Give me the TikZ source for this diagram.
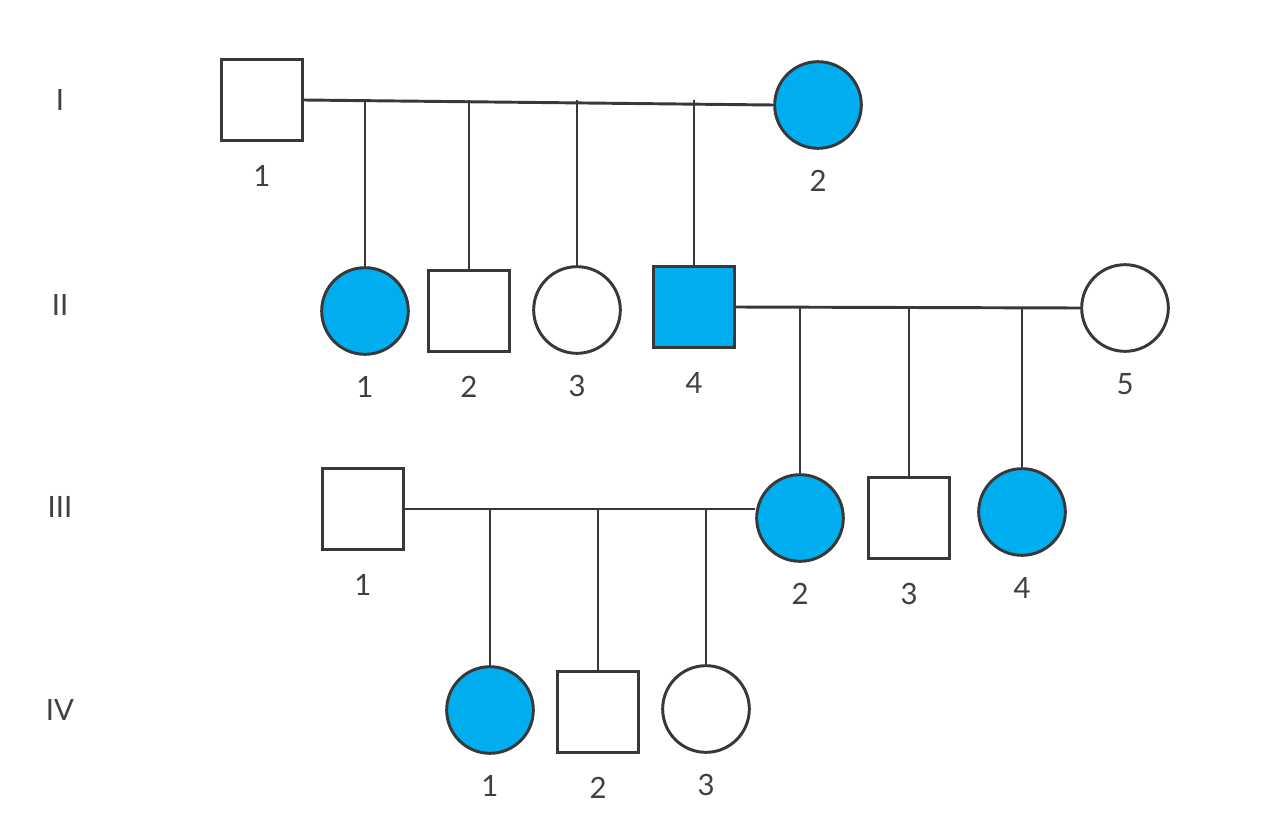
\documentclass[tikz,border=0pt]{standalone}
\usepackage{fontspec}
\setmainfont{Lato}
\begin{document}
\begin{tikzpicture}[x=0.75pt,y=-0.75pt,
 ln/.style={draw=black!78,line width=2.2pt},
 m/.style={ln,rectangle,minimum size=61pt,inner sep=0pt,fill=white},
 f/.style={ln,circle,minimum size=65pt,inner sep=0pt,fill=white},
 aff/.style={fill=cyan!100!blue!20!white,fill=aff},
 lab/.style={font=\fontsize{22}{24}\selectfont,text=black!75},
]
\definecolor{aff}{HTML}{00AEEF}
\useasboundingbox (0,0) rectangle (1278,814);
\foreach \t/\y in {I/100,II/305,III/507,IV/710}
  \node[lab] at (60,\y) {\t};
% Gen I
\node[m] (a1) at (262,100) {};
\node[f,fill=aff] (a2) at (818,105) {};
\coordinate (ma) at (a1.east |- 0,101);
\draw[ln] (a1.east) -- (a2.west);
% Gen II
\node[f,fill=aff] (b1) at (365,311) {};
\node[m] (b2) at (469,311) {};
\node[f] (b3) at (577,310) {};
\node[m,fill=aff] (b4) at (694,307) {};
\node[f] (b5) at (1125,308) {};
\foreach \c in {b1,b2,b3,b4} \draw[ln] (\c.north) -- (\c.north |- a1.east);
\draw[ln] (b4.east) -- (b5.west);
% Gen III
\node[m] (c1) at (363,509) {};
\node[f,fill=aff] (c2) at (800,518) {};
\node[m] (c3) at (909,518) {};
\node[f,fill=aff] (c4) at (1022,512) {};
\foreach \c in {c2,c3,c4} \draw[ln] (\c.north) -- (\c.north |- b4.east);
\draw[ln] (c1.east) -- (c1.east -| c2.west);
% Gen IV
\node[f,fill=aff] (d1) at (490,710) {};
\node[m] (d2) at (598,712) {};
\node[f] (d3) at (706,709) {};
\foreach \c in {d1,d2,d3} \draw[ln] (\c.north) -- (\c.north |- c1.east);
% labels
\foreach \c/\t in {a1/1,a2/2,b1/1,b2/2,b3/3,b4/4,b5/5,c1/1,c2/2,c3/3,c4/4,d1/1,d2/2,d3/3}
  \node[lab] at ([yshift=-57pt]\c.center) {\t};
\end{tikzpicture}
\end{document}
